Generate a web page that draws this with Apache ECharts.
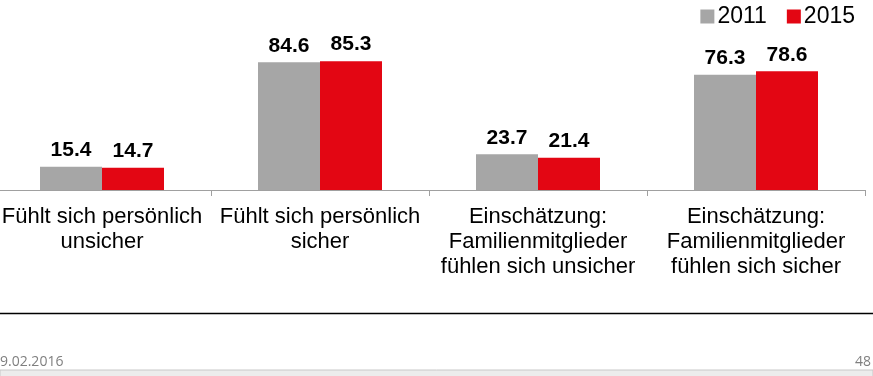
<!DOCTYPE html>
<html>
<head>
<meta charset="utf-8">
<script src="https://cdn.jsdelivr.net/npm/echarts@6/dist/echarts.min.js"></script>
<style>
    html, body { margin: 0; padding: 0; background: #fff; overflow: hidden; }
    /* the slide is cropped on the left, so the chart box starts a bit outside the page */
    #chart { width: 880px; height: 376px; margin-left: -7px; }
</style>
</head>
<body>
<div id="chart"></div>
<script>
    // categories and values
    const categories = [
        'Fühlt sich persönlich\nunsicher',
        'Fühlt sich persönlich\nsicher',
        'Einschätzung:\nFamilienmitglieder\nfühlen sich unsicher',
        'Einschätzung:\nFamilienmitglieder\nfühlen sich sicher'
    ]
    const values2011 = [15.4, 84.6, 23.7, 76.3]
    const values2015 = [14.7, 85.3, 21.4, 78.6]
    const seriesNames = ['2011', '2015']
    const footerDate = '9.02.2016'
    const footerPage = '48'

    const font = '"Liberation Sans", Arial, sans-serif'
    const off = 7 // shift of the chart box
    const chart = echarts.init(document.getElementById('chart'))

    const valueLabel = {
        show: true,
        position: 'top',
        distance: 6,
        fontFamily: font,
        fontWeight: 'bold',
        fontSize: 21,
        color: '#000'
    }

    chart.setOption({
        animation: false,
        legend: {
            right: 13,
            top: 0,
            itemWidth: 14,
            itemHeight: 14,
            itemGap: 20,
            icon: 'rect',
            textStyle: { fontFamily: font, fontSize: 23, color: '#000', padding: [2, 0, 0, -2] },
            data: seriesNames
        },
        grid: {
            left: 0,
            right: 8,
            top: 39,
            bottom: 186,
            containLabel: false
        },
        xAxis: {
            type: 'category',
            data: categories,
            axisLine: { lineStyle: { color: '#a0a0a0', width: 1 } },
            axisTick: { show: true, length: 6, lineStyle: { color: '#a0a0a0' } },
            axisLabel: {
                interval: 0,
                margin: 14,
                fontFamily: font,
                fontSize: 22,
                lineHeight: 25,
                color: '#000'
            }
        },
        yAxis: {
            type: 'value',
            min: 0,
            max: 100,
            show: false,
            splitLine: { show: false }
        },
        series: [{
            name: seriesNames[0],
            type: 'bar',
            barWidth: 62,
            barGap: '0%',
            itemStyle: { color: '#a6a6a6' },
            label: valueLabel,
            data: values2011
        }, {
            name: seriesNames[1],
            type: 'bar',
            barWidth: 62,
            barGap: '0%',
            itemStyle: { color: '#e30613' },
            label: valueLabel,
            data: values2015
        }],
        graphic: [{
            type: 'line',
            shape: { x1: off, y1: 313.5, x2: 873 + off, y2: 313.5 },
            style: { stroke: '#000', lineWidth: 1.5 }
        }, {
            type: 'rect',
            shape: { x: off, y: 370, width: 873, height: 8 },
            style: { fill: '#ececec', stroke: '#c8c8c8', lineWidth: 1 }
        }, {
            type: 'text',
            left: off,
            top: 355,
            style: { text: footerDate, fontFamily: '"Open Sans", sans-serif', fontSize: 14, fill: '#7f7f7f' }
        }, {
            type: 'text',
            right: 2,
            top: 355,
            style: { text: footerPage, fontFamily: '"Open Sans", sans-serif', fontSize: 14, fill: '#7f7f7f' }
        }]
    })
</script>
</body>
</html>
